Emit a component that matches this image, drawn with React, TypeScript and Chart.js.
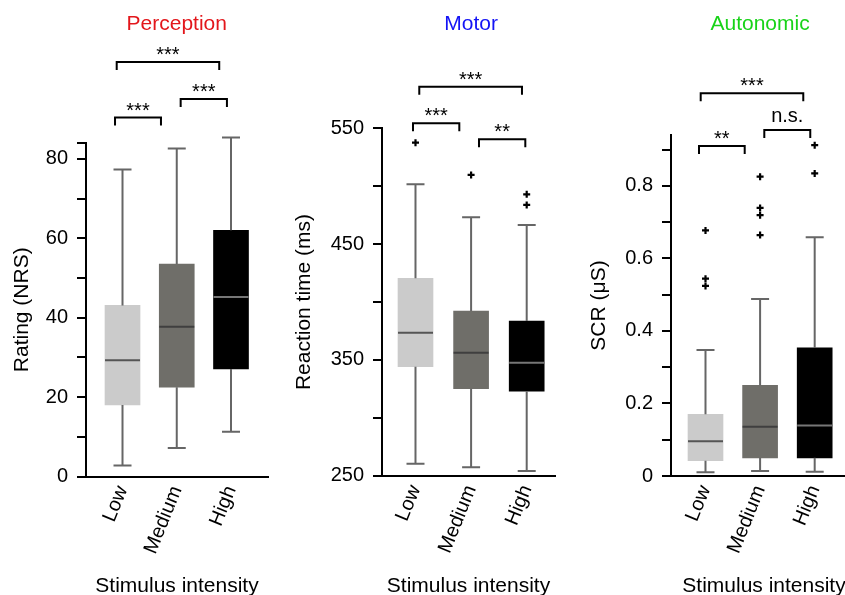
import React, { useEffect, useRef } from 'react';
import { Chart, registerables } from 'chart.js';

Chart.register(...registerables);

const FONT = "'Liberation Sans', Arial, Helvetica, sans-serif";
const CANVAS_W = 870;
const CANVAS_H = 610;

// ---------- shared ----------
const CATEGORIES = ['Low', 'Medium', 'High'];
const POSITIONS = [1, 2, 3];
const X_TITLE = 'Stimulus intensity';
const BOX_COLORS = ['#cbcbcb', '#6f6e69', '#000000'];
const MEDIAN_COLORS = ['#555555', '#3f3f3f', '#767676'];
const WHISKER_COLOR = '#666666';

// ---------- Perception ----------
const perceptionQ1 = [18.0, 22.5, 27.1];
const perceptionQ3 = [43.1, 53.5, 62.0];
const perceptionMedian = [29.3, 37.7, 45.2];
const perceptionWhiskerLow = [2.8, 7.2, 11.3];
const perceptionWhiskerHigh = [77.3, 82.6, 85.4];
const perceptionOutliers: number[][] = [[], [], []];
const perceptionTickLabels = [0, 20, 40, 60, 80];
const perceptionBracketFrom = [0.862, 2.072, 0.893];
const perceptionBracketTo = [1.709, 2.925, 2.783];
const perceptionBracketY = [90.4, 95.1, 104.4];
const perceptionBracketLabel = ['***', '***', '***'];

// ---------- Motor ----------
const motorQ1 = [344.1, 325.1, 322.9];
const motorQ3 = [420.5, 392.2, 383.6];
const motorMedian = [373.5, 356.2, 347.6];
const motorWhiskerLow = [260.4, 257.2, 254.0];
const motorWhiskerHigh = [501.6, 473.1, 466.5];
const motorOutliers: number[][] = [[537.6], [509.7], [493.0, 483.8]];
const motorTickLabels = [250, 350, 450, 550];
const motorBracketFrom = [0.955, 2.142, 1.068];
const motorBracketTo = [1.788, 2.975, 2.915];
const motorBracketY = [554.3, 540.5, 585.9];
const motorBracketLabel = ['***', '**', '***'];

// ---------- Autonomic ----------
const autonomicQ1 = [0.042, 0.05, 0.05];
const autonomicQ3 = [0.17, 0.25, 0.353];
const autonomicMedian = [0.096, 0.136, 0.139];
const autonomicWhiskerLow = [0.01, 0.014, 0.012];
const autonomicWhiskerHigh = [0.347, 0.488, 0.658];
const autonomicOutliers: number[][] = [
  [0.677, 0.544, 0.524],
  [0.825, 0.739, 0.719, 0.664],
  [0.912, 0.834],
];
const autonomicTickLabels = [0, 0.2, 0.4, 0.6, 0.8];
const autonomicBracketFrom = [0.881, 2.077, 0.912];
const autonomicBracketTo = [1.718, 2.919, 2.791];
const autonomicBracketY = [0.91, 0.954, 1.055];
const autonomicBracketLabel = ['**', 'n.s.', '***'];

type PanelDef = {
  title: string;
  titleColor: string;
  yTitle: string;
  q1: number[];
  q3: number[];
  median: number[];
  wLow: number[];
  wHigh: number[];
  outliers: number[][];
  tickLabels: number[];
  bFrom: number[];
  bTo: number[];
  bY: number[];
  bLabel: string[];
  yMin: number;
  yMax: number;
  yStep: number;
  xMin: number;
  xMax: number;
  // layout (page pixels)
  left: number;
  right: number;
  top: number;
  bottom: number;
  yTitleX: number;
};

const PANELS: PanelDef[] = [
  {
    title: 'Perception', titleColor: '#e3161b', yTitle: 'Rating (NRS)',
    q1: perceptionQ1, q3: perceptionQ3, median: perceptionMedian,
    wLow: perceptionWhiskerLow, wHigh: perceptionWhiskerHigh, outliers: perceptionOutliers,
    tickLabels: perceptionTickLabels,
    bFrom: perceptionBracketFrom, bTo: perceptionBracketTo, bY: perceptionBracketY, bLabel: perceptionBracketLabel,
    yMin: 0, yMax: 84, yStep: 10, xMin: 0.327, xMax: 3.682,
    left: 86, right: 268, top: 143, bottom: 476.5, yTitleX: 22,
  },
  {
    title: 'Motor', titleColor: '#1414f5', yTitle: 'Reaction time (ms)',
    q1: motorQ1, q3: motorQ3, median: motorMedian,
    wLow: motorWhiskerLow, wHigh: motorWhiskerHigh, outliers: motorOutliers,
    tickLabels: motorTickLabels,
    bFrom: motorBracketFrom, bTo: motorBracketTo, bY: motorBracketY, bLabel: motorBracketLabel,
    yMin: 250, yMax: 550, yStep: 50, xMin: 0.3975, xMax: 3.509,
    left: 382, right: 555, top: 128.3, bottom: 475.7, yTitleX: 304,
  },
  {
    title: 'Autonomic', titleColor: '#18d318', yTitle: 'SCR (μS)',
    q1: autonomicQ1, q3: autonomicQ3, median: autonomicMedian,
    wLow: autonomicWhiskerLow, wHigh: autonomicWhiskerHigh, outliers: autonomicOutliers,
    tickLabels: autonomicTickLabels,
    bFrom: autonomicBracketFrom, bTo: autonomicBracketTo, bY: autonomicBracketY, bLabel: autonomicBracketLabel,
    yMin: 0, yMax: 0.94, yStep: 0.1, xMin: 0.368, xMax: 3.775,
    left: 671, right: 857, top: 135, bottom: 476, yTitleX: 599,
  },
];

const BOX_WIDTH = 35;
const CAP_WIDTH = 18;
const BRACKET_DROP = 8;
const X_TITLE_CENTER_Y = 586;
const TITLE_BASELINE_Y = 30;
const AXIS_TITLE_SIZE = 21;
const HALF_LH = (AXIS_TITLE_SIZE * 1.2) / 2;

function makePlugin(p: PanelDef) {
  return {
    id: 'boxExtras',
    afterDatasetsDraw(chart: any) {
      const { ctx } = chart;
      const xs = chart.scales.x;
      const ys = chart.scales.y;
      ctx.save();
      // whiskers + caps
      ctx.strokeStyle = WHISKER_COLOR;
      ctx.lineWidth = 2;
      POSITIONS.forEach((pos, i) => {
        const cx = xs.getPixelForValue(pos);
        const yq1 = ys.getPixelForValue(p.q1[i]);
        const yq3 = ys.getPixelForValue(p.q3[i]);
        const yl = ys.getPixelForValue(p.wLow[i]);
        const yh = ys.getPixelForValue(p.wHigh[i]);
        ctx.beginPath();
        ctx.moveTo(cx, yq3);
        ctx.lineTo(cx, yh);
        ctx.moveTo(cx - CAP_WIDTH / 2, yh);
        ctx.lineTo(cx + CAP_WIDTH / 2, yh);
        ctx.moveTo(cx, yq1);
        ctx.lineTo(cx, yl);
        ctx.moveTo(cx - CAP_WIDTH / 2, yl);
        ctx.lineTo(cx + CAP_WIDTH / 2, yl);
        ctx.stroke();
      });
      // medians
      POSITIONS.forEach((pos, i) => {
        const cx = xs.getPixelForValue(pos);
        const ym = ys.getPixelForValue(p.median[i]);
        ctx.strokeStyle = MEDIAN_COLORS[i];
        ctx.lineWidth = 2;
        ctx.beginPath();
        ctx.moveTo(cx - BOX_WIDTH / 2, ym);
        ctx.lineTo(cx + BOX_WIDTH / 2, ym);
        ctx.stroke();
      });
      // significance brackets
      ctx.strokeStyle = '#000';
      ctx.fillStyle = '#000';
      ctx.lineWidth = 2;
      ctx.font = `20px ${FONT}`;
      ctx.textAlign = 'center';
      ctx.textBaseline = 'alphabetic';
      p.bY.forEach((yv, i) => {
        const x1 = xs.getPixelForValue(p.bFrom[i]);
        const x2 = xs.getPixelForValue(p.bTo[i]);
        const y = ys.getPixelForValue(yv);
        ctx.beginPath();
        ctx.moveTo(x1, y + BRACKET_DROP);
        ctx.lineTo(x1, y);
        ctx.lineTo(x2, y);
        ctx.lineTo(x2, y + BRACKET_DROP);
        ctx.stroke();
        const lab = p.bLabel[i];
        const off = lab === 'n.s.' ? 8 : 1;
        ctx.fillText(lab, (x1 + x2) / 2, y - off);
      });
      // panel title
      ctx.fillStyle = p.titleColor;
      ctx.font = `21px ${FONT}`;
      ctx.fillText(p.title, xs.getPixelForValue(2), TITLE_BASELINE_Y);
      ctx.restore();
    },
  };
}

function buildConfig(p: PanelDef): any {
  const padLeft = p.yTitleX - HALF_LH;
  const yAxisWidth = p.left - padLeft;
  const xAxisHeight = X_TITLE_CENTER_Y + HALF_LH - p.bottom;
  const font = { family: FONT, size: 20 };
  const titleFont = { family: FONT, size: AXIS_TITLE_SIZE };
  return {
    type: 'bar',
    data: {
      datasets: [
        {
          type: 'bar',
          data: POSITIONS.map((x, i) => ({ x, y: [p.q1[i], p.q3[i]] })),
          backgroundColor: BOX_COLORS,
          borderWidth: 0,
          barThickness: BOX_WIDTH,
          grouped: false,
          clip: false,
        },
        {
          type: 'scatter',
          data: p.outliers.flatMap((vals, i) => vals.map((v) => ({ x: POSITIONS[i], y: v }))),
          pointStyle: 'cross',
          pointRadius: 3.5,
          pointBorderWidth: 2.2,
          pointBorderColor: '#000',
          borderColor: '#000',
          showLine: false,
          clip: false,
        },
      ],
    },
    options: {
      responsive: false,
      animation: false,
      events: [],
      devicePixelRatio: 1,
      layout: {
        padding: {
          left: padLeft,
          right: CANVAS_W - p.right,
          top: p.top,
          bottom: CANVAS_H - (X_TITLE_CENTER_Y + HALF_LH),
        },
      },
      plugins: { legend: { display: false }, tooltip: { enabled: false }, title: { display: false } },
      scales: {
        x: {
          type: 'linear',
          min: p.xMin,
          max: p.xMax,
          bounds: 'data',
          offset: false,
          afterBuildTicks: (s: any) => {
            s.ticks = POSITIONS.map((v) => ({ value: v }));
          },
          afterFit: (s: any) => {
            s.height = xAxisHeight;
          },
          grid: { display: false, drawTicks: false, offset: false },
          border: { display: true, color: '#000', width: 2 },
          ticks: {
            autoSkip: false,
            minRotation: 68,
            maxRotation: 68,
            padding: 6,
            color: '#000',
            font,
            callback: (v: number) => {
              const idx = POSITIONS.indexOf(v);
              return idx >= 0 ? CATEGORIES[idx] : '';
            },
          },
          title: { display: true, text: X_TITLE, color: '#000', font: titleFont, padding: 0 },
        },
        y: {
          type: 'linear',
          min: p.yMin,
          max: p.yMax,
          bounds: 'data',
          afterFit: (s: any) => {
            s.width = yAxisWidth;
          },
          grid: {
            display: true,
            drawOnChartArea: false,
            drawTicks: true,
            tickLength: 9,
            color: '#000',
            lineWidth: 2,
          },
          border: { display: true, color: '#000', width: 2 },
          ticks: {
            stepSize: p.yStep,
            includeBounds: false,
            padding: 9,
            color: '#000',
            font,
            callback: (v: number) => {
              const r = Math.round(v * 1000) / 1000;
              return p.tickLabels.includes(r) ? String(r) : '';
            },
          },
          title: { display: true, text: p.yTitle, color: '#000', font: titleFont, padding: 0 },
        },
      },
    },
    plugins: [makePlugin(p)],
  };
}

function Panel({ panel }: { panel: PanelDef }) {
  const ref = useRef<HTMLCanvasElement>(null);
  useEffect(() => {
    if (!ref.current) return;
    const chart = new Chart(ref.current, buildConfig(panel));
    return () => chart.destroy();
  }, [panel]);
  return (
    <canvas
      ref={ref}
      width={CANVAS_W}
      height={CANVAS_H}
      style={{ position: 'absolute', left: 0, top: 0, width: CANVAS_W, height: CANVAS_H }}
    />
  );
}

export default function App() {
  return (
    <div
      style={{
        position: 'absolute',
        left: 0,
        top: 0,
        width: 845,
        height: 595,
        overflow: 'hidden',
        background: '#fff',
      }}
    >
      {PANELS.map((p) => (
        <Panel key={p.title} panel={p} />
      ))}
    </div>
  );
}
